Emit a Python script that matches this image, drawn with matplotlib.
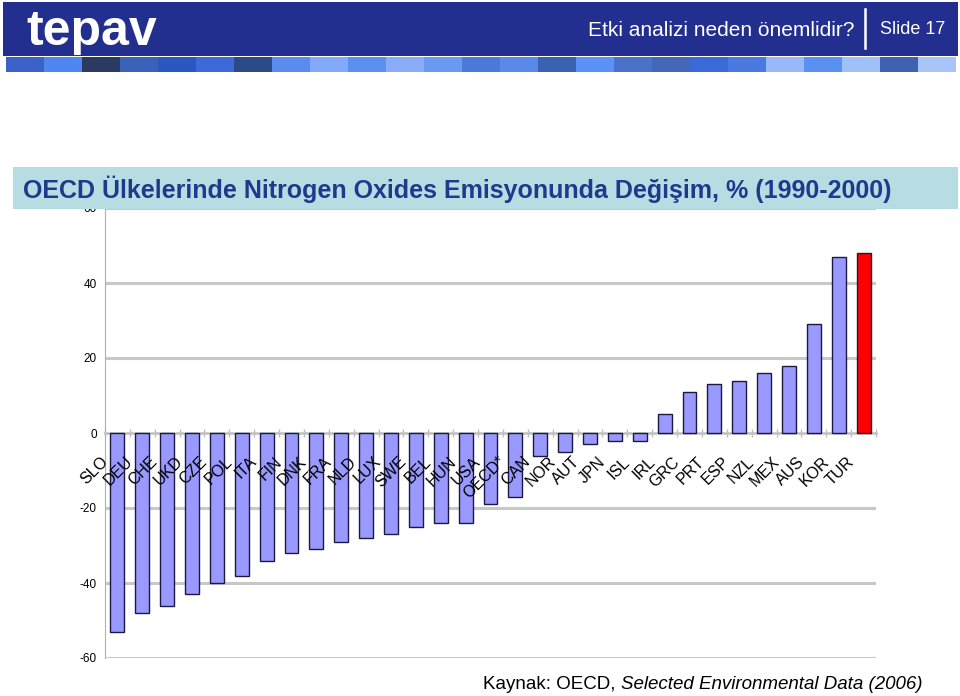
import matplotlib
matplotlib.use("Agg")
import matplotlib.pyplot as plt
from matplotlib.patches import Rectangle
from matplotlib.lines import Line2D
import numpy as np

plt.rcParams['font.family'] = ['Liberation Sans', 'DejaVu Sans']

# data
countries = ["SLO", "DEU", "CHE", "UKD", "CZE", "POL", "ITA", "FIN", "DNK", "FRA",
             "NLD", "LUX", "SWE", "BEL", "HUN", "USA", "OECD*", "CAN", "NOR", "AUT",
             "JPN", "ISL", "IRL", "GRC", "PRT", "ESP", "NZL", "MEX", "AUS", "KOR", "TUR"]
change = [-53, -48, -46, -43, -40, -38, -34, -32, -31, -29,
          -28, -27, -25, -24, -24, -19, -17, -6, -5, -3,
          -2, -2, 5, 11, 13, 14, 16, 18, 29, 47, 48]
highlight = 30  # last bar in red
yticks = [-60, -40, -20, 0, 20, 40, 60]

title = "OECD Ülkelerinde Nitrogen Oxides Emisyonunda Değişim, % (1990-2000)"
header_text = "Etki analizi neden önemlidir?"
slide_no = "Slide 17"
source_a = "Kaynak: OECD, "
source_b = "Selected Environmental Data (2006)"

strip_colors = ["#3a62c8", "#4f86f0", "#2a3a60", "#3a62b8", "#2a58c0", "#3d6ad8",
                "#2c4a88", "#5a8cf0", "#82aaf8", "#5a90f0", "#88acf8", "#6a9af0",
                "#4a7ad8", "#5a8ae8", "#3a62b0", "#5a92f8", "#4a72c8", "#4468b8",
                "#3a6ad8", "#4a7ae0", "#98b8f8", "#5a90f0", "#a0c0f8", "#4060b0",
                "#a8c4f8"]

fig = plt.figure(figsize=(9.6, 6.96), dpi=100)
ax = fig.add_axes([105/960, 1-658/696, 771/960, 450/696])

x = np.arange(len(countries))
colors = ["#9999ff"] * len(countries)
colors[highlight] = "#ff0000"
ax.bar(x, change, width=0.56, color=colors, edgecolor="#1a1a40", linewidth=1.0, zorder=3)

ax.set_xlim(-0.5, len(countries) - 0.5)
ax.set_ylim(-60, 60)
ax.set_yticks(yticks)
ax.set_yticklabels([str(v) for v in yticks], fontsize=8.5)
ax.tick_params(axis='y', length=0, pad=6)
ax.set_axisbelow(True)
for v in yticks:
    if v != 0:
        ax.axhline(v, color="#c8c8c8", linewidth=2.2, zorder=1)

for s in ["top", "right"]:
    ax.spines[s].set_visible(False)
ax.spines["left"].set_color("#b0b0b0")
ax.spines["left"].set_linewidth(0.8)
ax.spines["bottom"].set_position(("data", 0))
ax.spines["bottom"].set_color("#c0c0c0")
ax.spines["bottom"].set_linewidth(1.8)
ax.set_xticks(np.arange(len(countries) + 1) - 0.5)
ax.set_xticklabels([])
ax.tick_params(axis='x', direction='inout', length=6, color="#c0c0c0", width=1)

for i, name in enumerate(countries):
    ax.text(i - 0.7, -5.6, name, rotation=45, rotation_mode='anchor',
            ha='right', va='top', fontsize=11.5, zorder=4)

# header
fig.add_artist(Rectangle((3/960, 1-56/696), 955/960, 54/696, transform=fig.transFigure,
                         facecolor="#232f8e", edgecolor="none", zorder=5))
w = 38.0
for k, c in enumerate(strip_colors):
    fig.add_artist(Rectangle(((6 + k*w)/960, 1-72/696), w/960, 15/696,
                             transform=fig.transFigure, facecolor=c,
                             edgecolor="none", zorder=5))
fig.text(26/960, 1-32/696, "tepav", color="white", fontsize=36, fontweight="bold",
         ha="left", va="center", zorder=6)
fig.text(855/960, 1-30/696, header_text, color="white", fontsize=15,
         ha="right", va="center", zorder=6)
fig.add_artist(Line2D([865/960, 865/960], [1-48/696, 1-9/696], transform=fig.transFigure,
                      color="white", linewidth=1.8, zorder=6))
fig.text(880/960, 1-30/696, slide_no, color="white", fontsize=13,
         ha="left", va="center", zorder=6)

# title band
fig.add_artist(Rectangle((13/960, 1-209/696), 945/960, 42/696, transform=fig.transFigure,
                         facecolor="#b7dde3", edgecolor="none", zorder=5))
fig.text(23/960, 1-189/696, title, color="#1e3a8c", fontsize=18, fontweight="bold",
         ha="left", va="center", zorder=6)

# source
t1 = fig.text(483/960, 1-693/696, source_a, fontsize=13.5, ha="left", va="bottom")
fig.add_artist(matplotlib.text.Annotation(source_b, xy=(1, 0), xycoords=t1,
                                          va="bottom", ha="left", fontsize=13.5,
                                          style="italic"))

fig.savefig("out.png", dpi=100)
